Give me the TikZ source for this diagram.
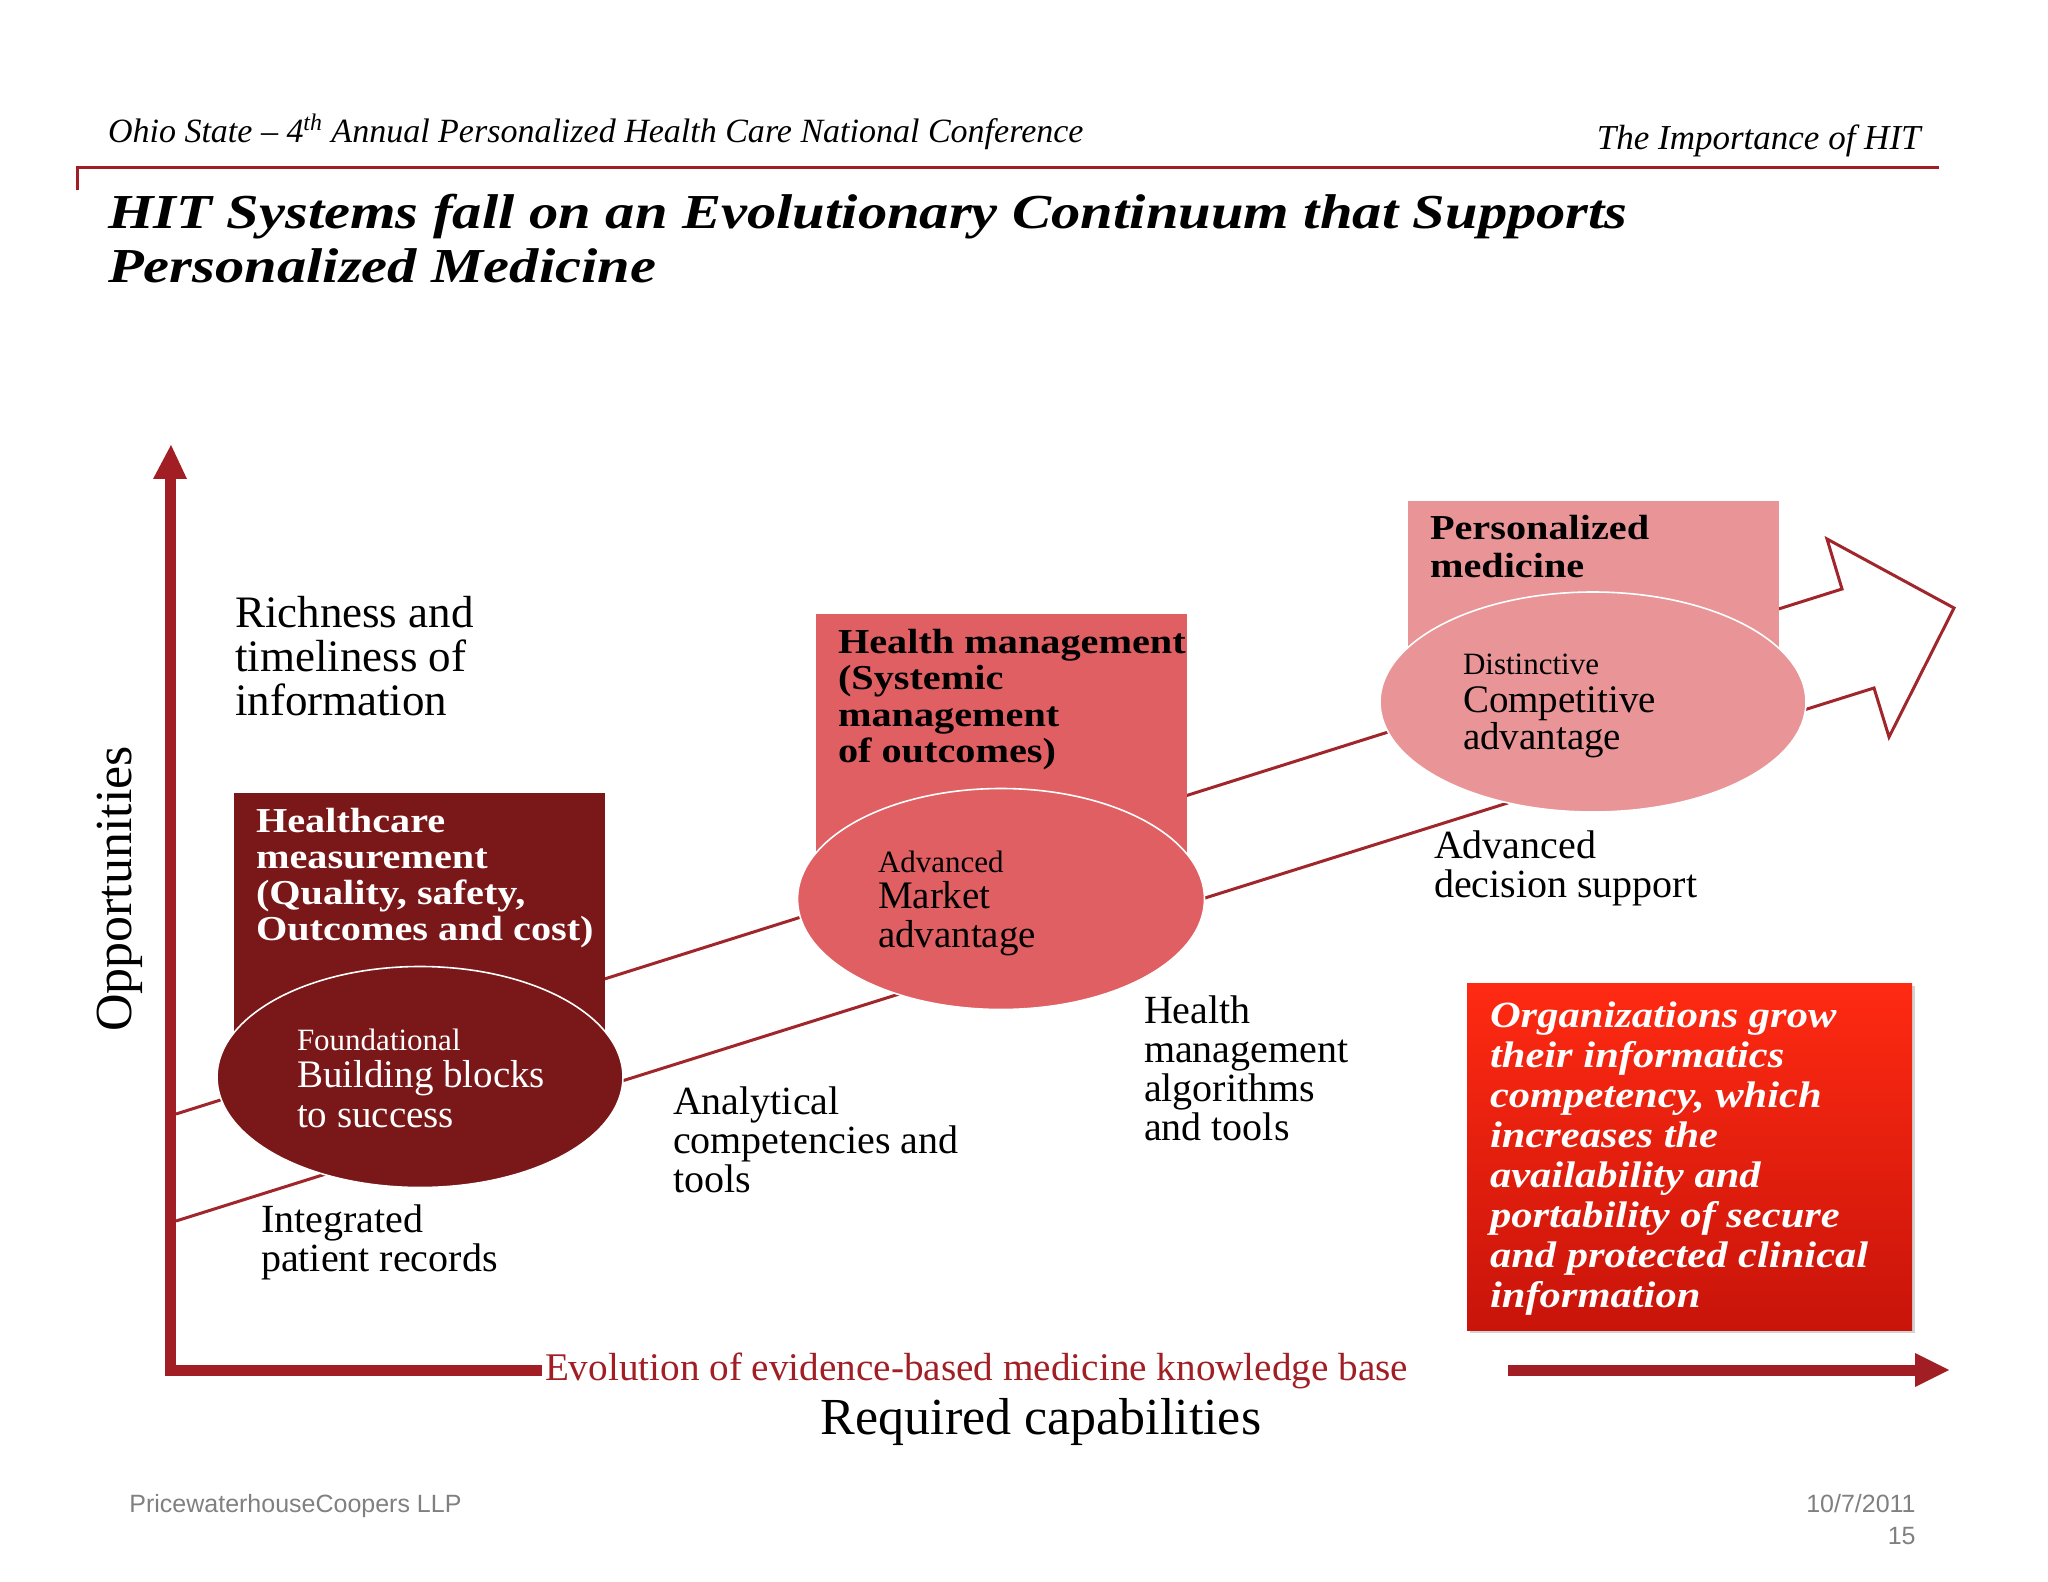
\documentclass[tikz,border=0pt]{standalone}
\usepackage{fontspec}
\setmainfont{Liberation Serif}
\newfontfamily\wide[FakeStretch=1.15]{Liberation Serif}
\newfontfamily\titlef[FakeStretch=1.2]{Liberation Serif}
\newfontfamily\sansf{Liberation Sans}
\usetikzlibrary{shapes.geometric,shadows}
\definecolor{axisred}{HTML}{A11F24}
\definecolor{linered}{HTML}{A0262B}
\definecolor{darkbox}{HTML}{7A1719}
\definecolor{midbox}{HTML}{E05F63}
\definecolor{lightbox}{HTML}{E99598}
\definecolor{calltop}{HTML}{FF2A12}
\definecolor{callbot}{HTML}{C8140A}
\definecolor{footgray}{HTML}{808080}
\newcommand\ml[1]{\vtop{\lineskiplimit=-100pt\lineskip=0pt\halign{##\hfil\cr#1\crcr}}}
\tikzset{
  txt/.style={inner sep=0pt, outer sep=0pt, anchor=base west},
  boxr/.style={rectangle, inner sep=0pt, outer sep=0pt, draw=none},
  ell/.style={ellipse, draw=white, line width=0.8pt, inner sep=0pt, outer sep=0pt},
  arrowline/.style={draw=linered, line width=1.5pt, line join=miter},
  plain/.style={txt, font=\fontsize{20}{19.5}\selectfont},
  boxtext/.style={txt, font={\wide\bfseries\fontsize{17.5}{18}\selectfont}},
  foot/.style={inner sep=0pt, text=footgray, font=\sansf\fontsize{12.5}{14}\selectfont},
}
\begin{document}
\begin{tikzpicture}[x=0.5pt,y=-0.5pt]
\useasboundingbox (0,0) rectangle (2048,1582);

% header
\node[txt, font=\itshape\fontsize{17}{20}\selectfont] (hdr) at (108,143)
  {Ohio State -- 4\textsuperscript{th} Annual Personalized Health Care National Conference};
\node[inner sep=0pt, anchor=base east, font=\itshape\fontsize{17.5}{20}\selectfont] (hdrr) at (1921,150) {The Importance of HIT};
\coordinate (hl1) at (77,168);
\coordinate (hl2) at (1939,168);
\coordinate (hl3) at (77,190);
\draw[axisred, line width=1.5pt] (hl3) -- (hl1) -- (hl2);
\node[txt, font={\titlef\bfseries\itshape\fontsize{24.4}{27}\selectfont}] (title) at (108,229)
  {\ml{HIT Systems fall on an Evolutionary Continuum that Supports\cr Personalized Medicine}};

% big outlined arrow
\coordinate (uL) at (176,1114);
\coordinate (uN) at (1842,589);
\coordinate (hU) at (1827,539);
\coordinate (tip) at (1954,608);
\coordinate (hL) at (1889,737);
\coordinate (lN) at (1874,688);
\coordinate (lL) at (176,1221);
\draw[arrowline] (uL) -- (uN) -- (hU) -- (tip) -- (hL) -- (lN) -- (lL);

% boxes
\node[boxr, fill=darkbox, minimum width=185.5pt, minimum height=142pt] (box1) at (419.5,935) {};
\node[boxr, fill=midbox, minimum width=185.5pt, minimum height=142.5pt] (box2) at (1001.5,756.5) {};
\node[boxr, fill=lightbox, minimum width=185.5pt, minimum height=100.5pt] (box3) at (1593.5,601.5) {};

% ellipses
\node[ell, fill=darkbox, minimum width=203pt, minimum height=110.5pt] (ell1) at (420,1077) {};
\node[ell, fill=midbox, minimum width=203.5pt, minimum height=110.5pt] (ell2) at (1001,899) {};
\node[ell, fill=lightbox, minimum width=213pt, minimum height=110pt] (ell3) at (1593,702) {};

% box texts
\node[boxtext, text=white] (b1t) at (256,832)
  {\ml{Healthcare\cr measurement\cr (Quality, safety,\cr Outcomes and cost)}};
\node[boxtext, font={\wide\bfseries\fontsize{17.5}{18.3}\selectfont}] (b2t) at (838,653)
  {\ml{Health management\cr (Systemic\cr management\cr of outcomes)}};
\node[boxtext, font={\wide\bfseries\fontsize{17.5}{18.5}\selectfont}] (b3t) at (1430,540)
  {\ml{Personalized\cr medicine}};

% ellipse texts
\node[txt, text=white, font=\fontsize{15.5}{18}\selectfont] (e1a) at (297,1050) {Foundational};
\node[txt, text=white, font=\fontsize{19.5}{20}\selectfont] (e1b) at (297,1087) {\ml{Building blocks\cr to success}};
\node[txt, font=\fontsize{15.5}{18}\selectfont] (e2a) at (878,872) {Advanced};
\node[txt, font=\fontsize{19.5}{19.5}\selectfont] (e2b) at (878,908) {\ml{Market\cr advantage}};
\node[txt, font=\fontsize{15.5}{18}\selectfont] (e3a) at (1463,674) {Distinctive};
\node[txt, font=\fontsize{19.5}{18.5}\selectfont] (e3b) at (1463,712) {\ml{Competitive\cr advantage}};

% free texts
\node[txt, font=\fontsize{22.5}{22}\selectfont] (rich) at (235,627) {\ml{Richness and\cr timeliness of\cr information}};
\node[plain] (integ) at (261,1232) {\ml{Integrated\cr patient records}};
\node[plain] (anal) at (673,1114) {\ml{Analytical\cr competencies and\cr tools}};
\node[plain] (hmgmt) at (1144,1023) {\ml{Health\cr management\cr algorithms\cr and tools}};
\node[plain] (adv) at (1434,858) {\ml{Advanced\cr decision support}};

% callout
\node[boxr, top color=calltop, bottom color=callbot, minimum width=222.5pt, minimum height=173.5pt,
  drop shadow={opacity=0.35, shadow xshift=1.5pt, shadow yshift=-1.5pt}] (call) at (1689.5,1156.5) {};
\node[txt, text=white, font={\wide\bfseries\itshape\fontsize{18.5}{20}\selectfont}] (callt) at (1490,1027)
  {\ml{Organizations grow\cr their informatics\cr competency, which\cr increases the\cr availability and\cr portability of secure\cr and protected clinical\cr information}};

% axes
\fill[axisred] (165,479) rectangle (176,1376);
\fill[axisred] (153,479) -- (171,445) -- (187,479) -- cycle;
\fill[axisred] (165,1365) rectangle (542,1376);
\fill[axisred] (1508,1365) rectangle (1915,1376);
\fill[axisred] (1915,1353) -- (1949,1370) -- (1915,1387) -- cycle;

\node[txt, text=axisred, font=\fontsize{19.6}{20}\selectfont] (evo) at (545,1380) {Evolution of evidence-based medicine knowledge base};
\node[inner sep=0pt, anchor=base, font=\fontsize{26}{28}\selectfont] (req) at (1041,1434) {Required capabilities};
\node[inner sep=0pt, anchor=base, rotate=90, font=\fontsize{26}{28}\selectfont] (opp) at (131,889) {Opportunities};

% footer
\node[foot, anchor=base west] (pwc) at (129,1512) {PricewaterhouseCoopers LLP};
\node[foot, anchor=base east] (date) at (1916,1512) {10/7/2011};
\node[foot, anchor=base east] (pg) at (1916,1544) {15};
\end{tikzpicture}
\end{document}
